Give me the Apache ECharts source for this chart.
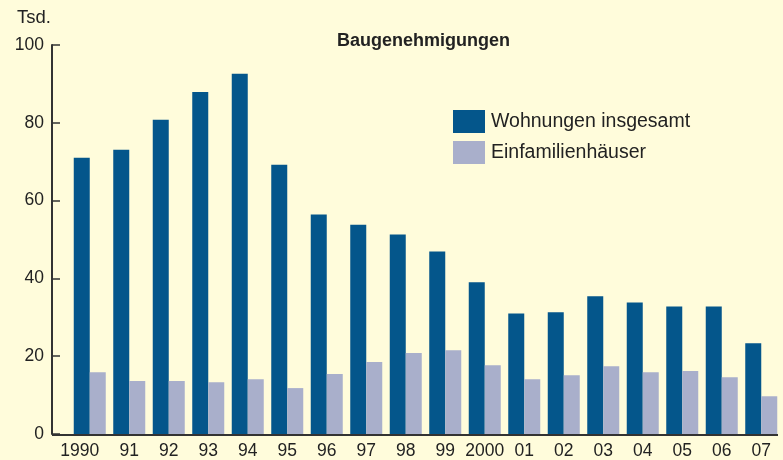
<!DOCTYPE html>
<html>
<head>
<meta charset="utf-8">
<script src="https://cdn.jsdelivr.net/npm/echarts@6/dist/echarts.min.js"></script>
<style>
    html, body { margin: 0; padding: 0; background: #fffcdb; }
    #main { width: 783px; height: 460px; }
</style>
</head>
<body>
<div id="main"></div>
<script>
var years = ['1990', '91', '92', '93', '94', '95', '96', '97', '98', '99',
    '2000', '01', '02', '03', '04', '05', '06', '07'];
var wohnungen = [71.0, 73.1, 80.8, 87.9, 92.6, 69.2, 56.4, 53.8, 51.3, 46.9,
    39.0, 31.0, 31.3, 35.4, 33.8, 32.8, 32.8, 23.3];
var einfamilien = [15.9, 13.6, 13.6, 13.3, 14.1, 11.8, 15.4, 18.5, 20.8, 21.5,
    17.7, 14.1, 15.1, 17.4, 15.9, 16.2, 14.6, 9.7];
var yTicks = [0, 20, 40, 60, 80, 100];

var fontName = 'Liberation Sans';
var myChart = echarts.init(document.getElementById('main'));

var option = {
    backgroundColor: '#fffcdb',
    textStyle: { fontFamily: fontName },
    title: {
        text: 'Baugenehmigungen',
        left: 332,
        top: 27,
        textStyle: {
            fontFamily: fontName,
            fontSize: 18,
            fontWeight: 'bold',
            color: '#222'
        }
    },
    legend: {
        orient: 'vertical',
        left: 448,
        top: 105,
        icon: 'rect',
        itemWidth: 32,
        itemHeight: 23,
        itemGap: 8,
        textStyle: {
            fontFamily: fontName,
            fontSize: 19.5,
            lineHeight: 23,
            color: '#222',
            padding: [0, 0, 0, 1]
        },
        data: ['Wohnungen insgesamt', 'Einfamilienhäuser']
    },
    grid: {
        left: 70,
        right: 2,
        top: 45,
        bottom: 25
    },
    xAxis: {
        type: 'category',
        data: years,
        axisLine: { show: false },
        axisTick: { show: false },
        axisLabel: {
            interval: 0,
            fontFamily: fontName,
            fontSize: 17.5,
            color: '#222',
            margin: 8,
            formatter: function (v, i) {
                // erstes Label etwas nach links
                return i === 0 ? '{f|' + v + '}' : v;
            },
            rich: {
                f: { fontFamily: fontName, fontSize: 17.5, color: '#222', padding: [0, 20, 0, 0] }
            }
        }
    },
    yAxis: {
        type: 'value',
        min: yTicks[0],
        max: yTicks[yTicks.length - 1],
        interval: 20,
        offset: 18,
        name: 'Tsd.',
        nameGap: 18,
        nameTextStyle: {
            fontFamily: fontName,
            fontSize: 18.5,
            color: '#222',
            align: 'right',
            padding: [0, 1, 0, 0]
        },
        axisLine: { show: true, lineStyle: { color: '#333', width: 2 } },
        axisTick: { show: true, inside: true, length: 8, lineStyle: { color: '#333', width: 1.5 } },
        axisLabel: {
            fontFamily: fontName,
            fontSize: 17.5,
            color: '#222',
            margin: 8
        },
        splitLine: { show: false }
    },
    graphic: [{
        type: 'line',
        shape: { x1: 52, y1: 435, x2: 778, y2: 435 },
        style: { stroke: '#333', lineWidth: 2 },
        z: 10
    }],
    series: [{
        name: 'Wohnungen insgesamt',
        type: 'bar',
        barWidth: 16,
        barGap: '0%',
        itemStyle: { color: '#04568b' },
        data: wohnungen
    }, {
        name: 'Einfamilienhäuser',
        type: 'bar',
        barWidth: 16,
        barGap: '0%',
        itemStyle: { color: '#a9afcb' },
        data: einfamilien
    }]
};

myChart.setOption(option);
</script>
</body>
</html>
